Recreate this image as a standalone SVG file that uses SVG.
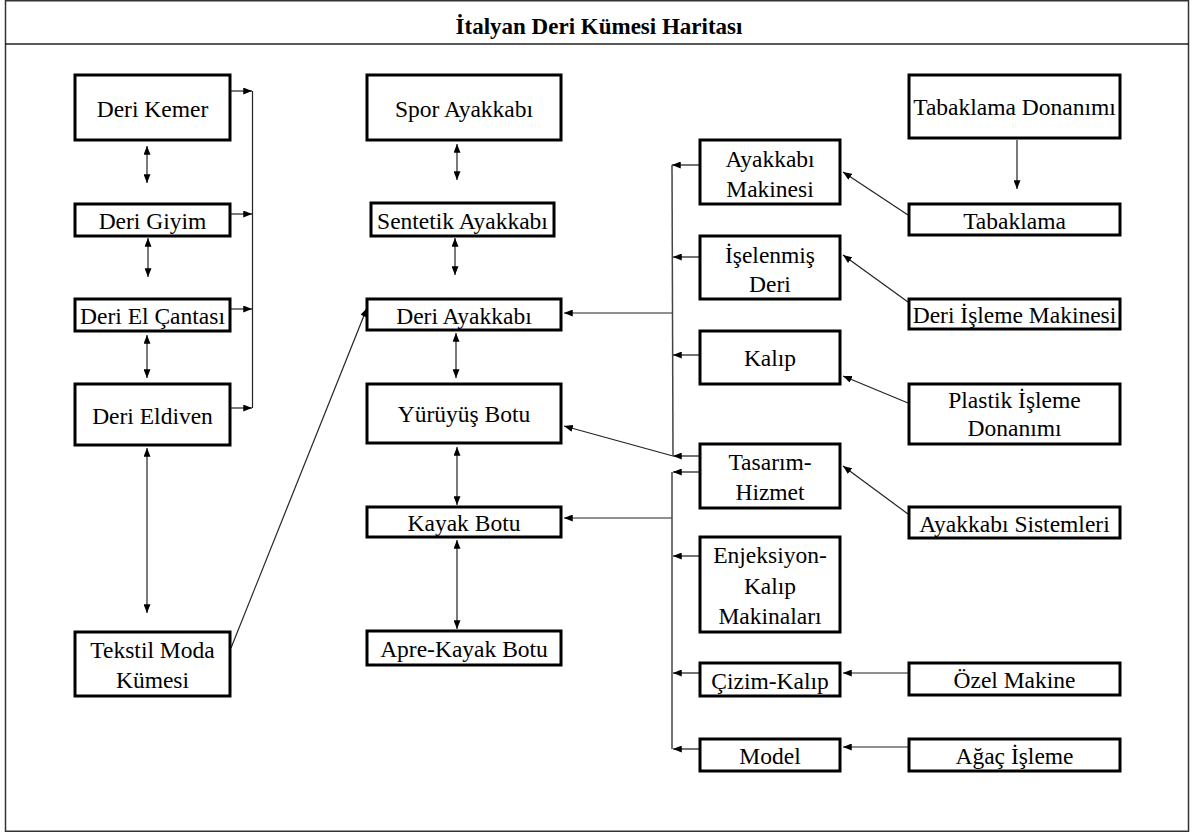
<svg xmlns="http://www.w3.org/2000/svg" width="1192" height="834" viewBox="0 0 1192 834">
  <style>
    .frame { fill: #fff; stroke: #333; stroke-width: 1.5; }
    .box { fill: #fff; stroke: #000; stroke-width: 3; }
    .lbl { font-family: 'Liberation Serif', 'DejaVu Serif', serif; font-size: 23.5px; fill: #000; text-anchor: middle; }
    .title { font-family: 'Liberation Serif', 'DejaVu Serif', serif; font-size: 23px; font-weight: bold; fill: #000; text-anchor: middle; }
    .ln { fill: none; stroke: #222; stroke-width: 1.2; }
    .bus { fill: none; stroke: #444; stroke-width: 1.5; }
  </style>
  <defs>
    <marker id="ah" viewBox="0 0 10 8" refX="10" refY="4" markerWidth="9" markerHeight="7" markerUnits="userSpaceOnUse" orient="auto-start-reverse">
      <path d="M0,0 L10,4 L0,8 Z" fill="#000"/>
    </marker>
  </defs>

  <!-- outer frame and title bar -->
  <rect class="frame" x="5.5" y="0.75" width="1183" height="830.5"/>
  <line x1="5" y1="44" x2="1189" y2="44" stroke="#222" stroke-width="1.5"/>
  <text class="title" x="599" y="34">İtalyan Deri Kümesi Haritası</text>

  <!-- connectors -->
  <g id="connectors">
    <!-- left column: vertical two-way links -->
    <line class="ln" x1="147" y1="146" x2="147" y2="183" marker-start="url(#ah)" marker-end="url(#ah)"/>
    <line class="ln" x1="148" y1="238" x2="148" y2="277" marker-start="url(#ah)" marker-end="url(#ah)"/>
    <line class="ln" x1="147" y1="335" x2="147" y2="378" marker-start="url(#ah)" marker-end="url(#ah)"/>
    <line class="ln" x1="147" y1="448" x2="147" y2="613" marker-start="url(#ah)" marker-end="url(#ah)"/>
    <!-- left column: feeds into the side bus -->
    <line class="ln" x1="231" y1="91" x2="252" y2="91" marker-end="url(#ah)"/>
    <line class="ln" x1="231" y1="214" x2="252" y2="214" marker-end="url(#ah)"/>
    <line class="ln" x1="231" y1="309" x2="252" y2="309" marker-end="url(#ah)"/>
    <line class="ln" x1="231" y1="408" x2="252" y2="408" marker-end="url(#ah)"/>
    <line class="ln" x1="252.5" y1="91" x2="252.5" y2="408"/>
    <!-- textile cluster to leather shoes -->
    <line class="ln" x1="231" y1="648" x2="367" y2="308" marker-end="url(#ah)"/>

    <!-- middle column: vertical two-way links -->
    <line class="ln" x1="457" y1="144" x2="457" y2="180" marker-start="url(#ah)" marker-end="url(#ah)"/>
    <line class="ln" x1="455" y1="238" x2="455" y2="275" marker-start="url(#ah)" marker-end="url(#ah)"/>
    <line class="ln" x1="456" y1="333" x2="456" y2="378" marker-start="url(#ah)" marker-end="url(#ah)"/>
    <line class="ln" x1="457" y1="447" x2="457" y2="505" marker-start="url(#ah)" marker-end="url(#ah)"/>
    <line class="ln" x1="457" y1="540" x2="457" y2="629" marker-start="url(#ah)" marker-end="url(#ah)"/>

    <!-- supplier bus to the footwear column -->
    <line class="ln" x1="672" y1="313" x2="564" y2="313" marker-end="url(#ah)"/>
    <line class="ln" x1="673" y1="456" x2="564" y2="426" marker-end="url(#ah)"/>
    <line class="ln" x1="672" y1="518" x2="564" y2="518" marker-end="url(#ah)"/>

    <!-- supplier bus (upper and lower runs) -->
    <line class="bus" x1="672" y1="165" x2="673" y2="456"/>
    <line class="bus" x1="672" y1="472" x2="672" y2="749"/>
    <line class="bus" x1="700" y1="165" x2="672" y2="165" marker-end="url(#ah)"/>
    <line class="bus" x1="700" y1="257" x2="673" y2="257" marker-end="url(#ah)"/>
    <line class="bus" x1="700" y1="355" x2="673" y2="355" marker-end="url(#ah)"/>
    <line class="bus" x1="700" y1="456" x2="673" y2="456" marker-end="url(#ah)"/>
    <line class="bus" x1="700" y1="472" x2="673" y2="472" marker-end="url(#ah)"/>
    <line class="bus" x1="700" y1="556" x2="673" y2="556" marker-end="url(#ah)"/>
    <line class="bus" x1="700" y1="673" x2="673" y2="673" marker-end="url(#ah)"/>
    <line class="bus" x1="700" y1="749" x2="673" y2="749" marker-end="url(#ah)"/>

    <!-- right column: machinery and materials suppliers -->
    <line class="ln" x1="1017" y1="140" x2="1017" y2="189" marker-end="url(#ah)"/>
    <line class="ln" x1="908" y1="215" x2="843" y2="172" marker-end="url(#ah)"/>
    <line class="ln" x1="908" y1="302" x2="843" y2="255" marker-end="url(#ah)"/>
    <line class="ln" x1="908" y1="403" x2="843" y2="376" marker-end="url(#ah)"/>
    <line class="ln" x1="908" y1="514" x2="843" y2="466" marker-end="url(#ah)"/>
    <line class="ln" x1="908" y1="673" x2="843" y2="673" marker-end="url(#ah)"/>
    <line class="ln" x1="908" y1="747" x2="843" y2="747" marker-end="url(#ah)"/>
  </g>

  <!-- left column: leather goods -->
  <g id="deri-kemer"><rect class="box" x="75" y="75" width="155" height="65"/><text class="lbl" x="152.5" y="117">Deri Kemer</text></g>
  <g id="deri-giyim"><rect class="box" x="75" y="204" width="155" height="32"/><text class="lbl" x="152.5" y="229">Deri Giyim</text></g>
  <g id="deri-el-cantasi"><rect class="box" x="75" y="299" width="155" height="32"/><text class="lbl" x="152.5" y="324">Deri El Çantası</text></g>
  <g id="deri-eldiven"><rect class="box" x="75" y="384" width="155" height="61"/><text class="lbl" x="152.5" y="424">Deri Eldiven</text></g>
  <g id="tekstil-moda"><rect class="box" x="75" y="632" width="155" height="64"/><text class="lbl" x="152.5" y="658">Tekstil Moda</text><text class="lbl" x="152.5" y="688">Kümesi</text></g>

  <!-- middle column: footwear -->
  <g id="spor-ayakkabi"><rect class="box" x="367" y="75" width="194" height="65"/><text class="lbl" x="464" y="117">Spor Ayakkabı</text></g>
  <g id="sentetik-ayakkabi"><rect class="box" x="371" y="203" width="183" height="33"/><text class="lbl" x="462.5" y="229">Sentetik Ayakkabı</text></g>
  <g id="deri-ayakkabi"><rect class="box" x="367" y="299" width="194" height="31"/><text class="lbl" x="464" y="324">Deri Ayakkabı</text></g>
  <g id="yuruyus-botu"><rect class="box" x="367" y="384" width="194" height="59"/><text class="lbl" x="464" y="422">Yürüyüş Botu</text></g>
  <g id="kayak-botu"><rect class="box" x="367" y="507" width="194" height="30"/><text class="lbl" x="464" y="531">Kayak Botu</text></g>
  <g id="apre-kayak-botu"><rect class="box" x="367" y="631" width="194" height="34"/><text class="lbl" x="464" y="657">Apre-Kayak Botu</text></g>

  <!-- supplier column -->
  <g id="ayakkabi-makinesi"><rect class="box" x="700" y="140" width="140" height="64"/><text class="lbl" x="770" y="167">Ayakkabı</text><text class="lbl" x="770" y="197">Makinesi</text></g>
  <g id="islenmis-deri"><rect class="box" x="700" y="236" width="140" height="63"/><text class="lbl" x="770" y="263">İşelenmiş</text><text class="lbl" x="770" y="292">Deri</text></g>
  <g id="kalip"><rect class="box" x="700" y="331" width="140" height="53"/><text class="lbl" x="770" y="366">Kalıp</text></g>
  <g id="tasarim-hizmet"><rect class="box" x="700" y="444" width="140" height="64"/><text class="lbl" x="770" y="470">Tasarım-</text><text class="lbl" x="770" y="500">Hizmet</text></g>
  <g id="enjeksiyon"><rect class="box" x="700" y="537" width="140" height="95"/><text class="lbl" x="770" y="563">Enjeksiyon-</text><text class="lbl" x="770" y="594">Kalıp</text><text class="lbl" x="770" y="624">Makinaları</text></g>
  <g id="cizim-kalip"><rect class="box" x="700" y="663" width="140" height="33"/><text class="lbl" x="770" y="689">Çizim-Kalıp</text></g>
  <g id="model"><rect class="box" x="700" y="739" width="140" height="32"/><text class="lbl" x="770" y="764">Model</text></g>

  <!-- right column: upstream industries -->
  <g id="tabaklama-donanimi"><rect class="box" x="909" y="75" width="211" height="63"/><text class="lbl" x="1014.5" y="115">Tabaklama Donanımı</text></g>
  <g id="tabaklama"><rect class="box" x="909" y="204" width="211" height="31"/><text class="lbl" x="1014.5" y="229">Tabaklama</text></g>
  <g id="deri-isleme-makinesi"><rect class="box" x="909" y="299" width="211" height="30"/><text class="lbl" x="1014.5" y="323">Deri İşleme Makinesi</text></g>
  <g id="plastik-isleme"><rect class="box" x="909" y="384" width="211" height="60"/><text class="lbl" x="1014.5" y="408">Plastik İşleme</text><text class="lbl" x="1014.5" y="436">Donanımı</text></g>
  <g id="ayakkabi-sistemleri"><rect class="box" x="909" y="507" width="211" height="31"/><text class="lbl" x="1014.5" y="532">Ayakkabı Sistemleri</text></g>
  <g id="ozel-makine"><rect class="box" x="909" y="663" width="211" height="32"/><text class="lbl" x="1014.5" y="688">Özel Makine</text></g>
  <g id="agac-isleme"><rect class="box" x="909" y="739" width="211" height="32"/><text class="lbl" x="1014.5" y="764">Ağaç İşleme</text></g>
</svg>
